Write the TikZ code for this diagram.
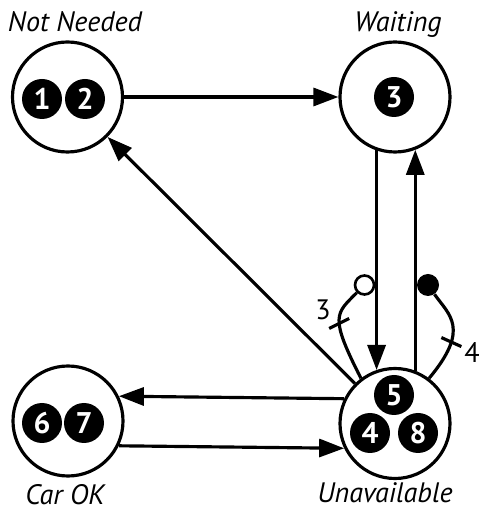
\documentclass[tikz,border=0pt]{standalone}
\usepackage{fontspec}
\setmainfont{PT Sans}
\usetikzlibrary{arrows.meta}
\tikzset{
status/.style={draw, circle, line width=1.8pt, minimum size=2.2cm, inner sep=0pt},
badge/.style={circle, fill=black, minimum size=0.8cm, inner sep=0pt,
  text=white, font=\bfseries\fontsize{17}{17}\selectfont},
title/.style={font=\itshape\fontsize{16}{16}\selectfont, anchor=base, inner sep=0pt},
count/.style={font=\fontsize{16}{16}\selectfont, inner sep=0pt},
wire/.style={line width=1.8pt},
move/.style={wire, -{Triangle[length=0.5cm,width=0.36cm]}},
hole/.style={circle, draw, line width=1.5pt, minimum size=0.38cm, inner sep=0pt},
token/.style={circle, fill=black, minimum size=0.44cm, inner sep=0pt}
}
\begin{document}
\begin{tikzpicture}
\useasboundingbox (0,0) rectangle (9.58,10.22);
% states
\node[status] (nn) at (1.35,8.28) {};
\node[status] (w) at (7.9,8.28) {};
\node[status] (car) at (1.36,1.80) {};
\node[status] (u) at (7.9,1.75) {};
\node[title] (nnt) at (1.50,9.58) {Not Needed};
\node[title] (wt) at (7.96,9.58) {Waiting};
\node[title] (cart) at (1.30,0.13) {Car OK};
\node[title] (ut) at (7.70,0.18) {Unavailable};
% badges
\node[badge] (b1) at (0.84,8.24) {1};
\node[badge] (b2) at (1.70,8.24) {2};
\node[badge] (b3) at (7.88,8.28) {3};
\node[badge] (b6) at (0.84,1.76) {6};
\node[badge] (b7) at (1.68,1.76) {7};
\node[badge] (b5) at (7.88,2.32) {5};
\node[badge] (b4) at (7.40,1.56) {4};
\node[badge] (b8) at (8.36,1.56) {8};
% moves
\draw[move] (nn) -- (w);
\draw[move] (w.251) -- (u.109);
\draw[move] (u.69) -- (w.291);
\draw[move] (u) -- (nn);
\draw[move] (u.154) -- (car.26);
\draw[move] (car.334) -- (u.206);
% loops
\node[hole] (oc) at (7.29,4.52) {};
\node[token] (tok) at (8.56,4.52) {};
\draw[wire] (u.127) .. controls +(117:1.4) and +(225:0.6) .. coordinate[pos=0.45] (t3) (oc.225);
\draw[wire] (u.53) .. controls +(50:1.3) and +(305:0.5) .. coordinate[pos=0.3] (t4) (tok.305);
\draw[wire] ([shift={(-0.2,-0.1)}]t3) -- ([shift={(0.2,0.1)}]t3);
\draw[wire] ([shift={(-0.2,0.09)}]t4) -- ([shift={(0.2,-0.09)}]t4);
\node[count] (l3) at (6.46,4.02) {3};
\node[count] (l4) at (9.44,3.16) {4};
\end{tikzpicture}
\end{document}
